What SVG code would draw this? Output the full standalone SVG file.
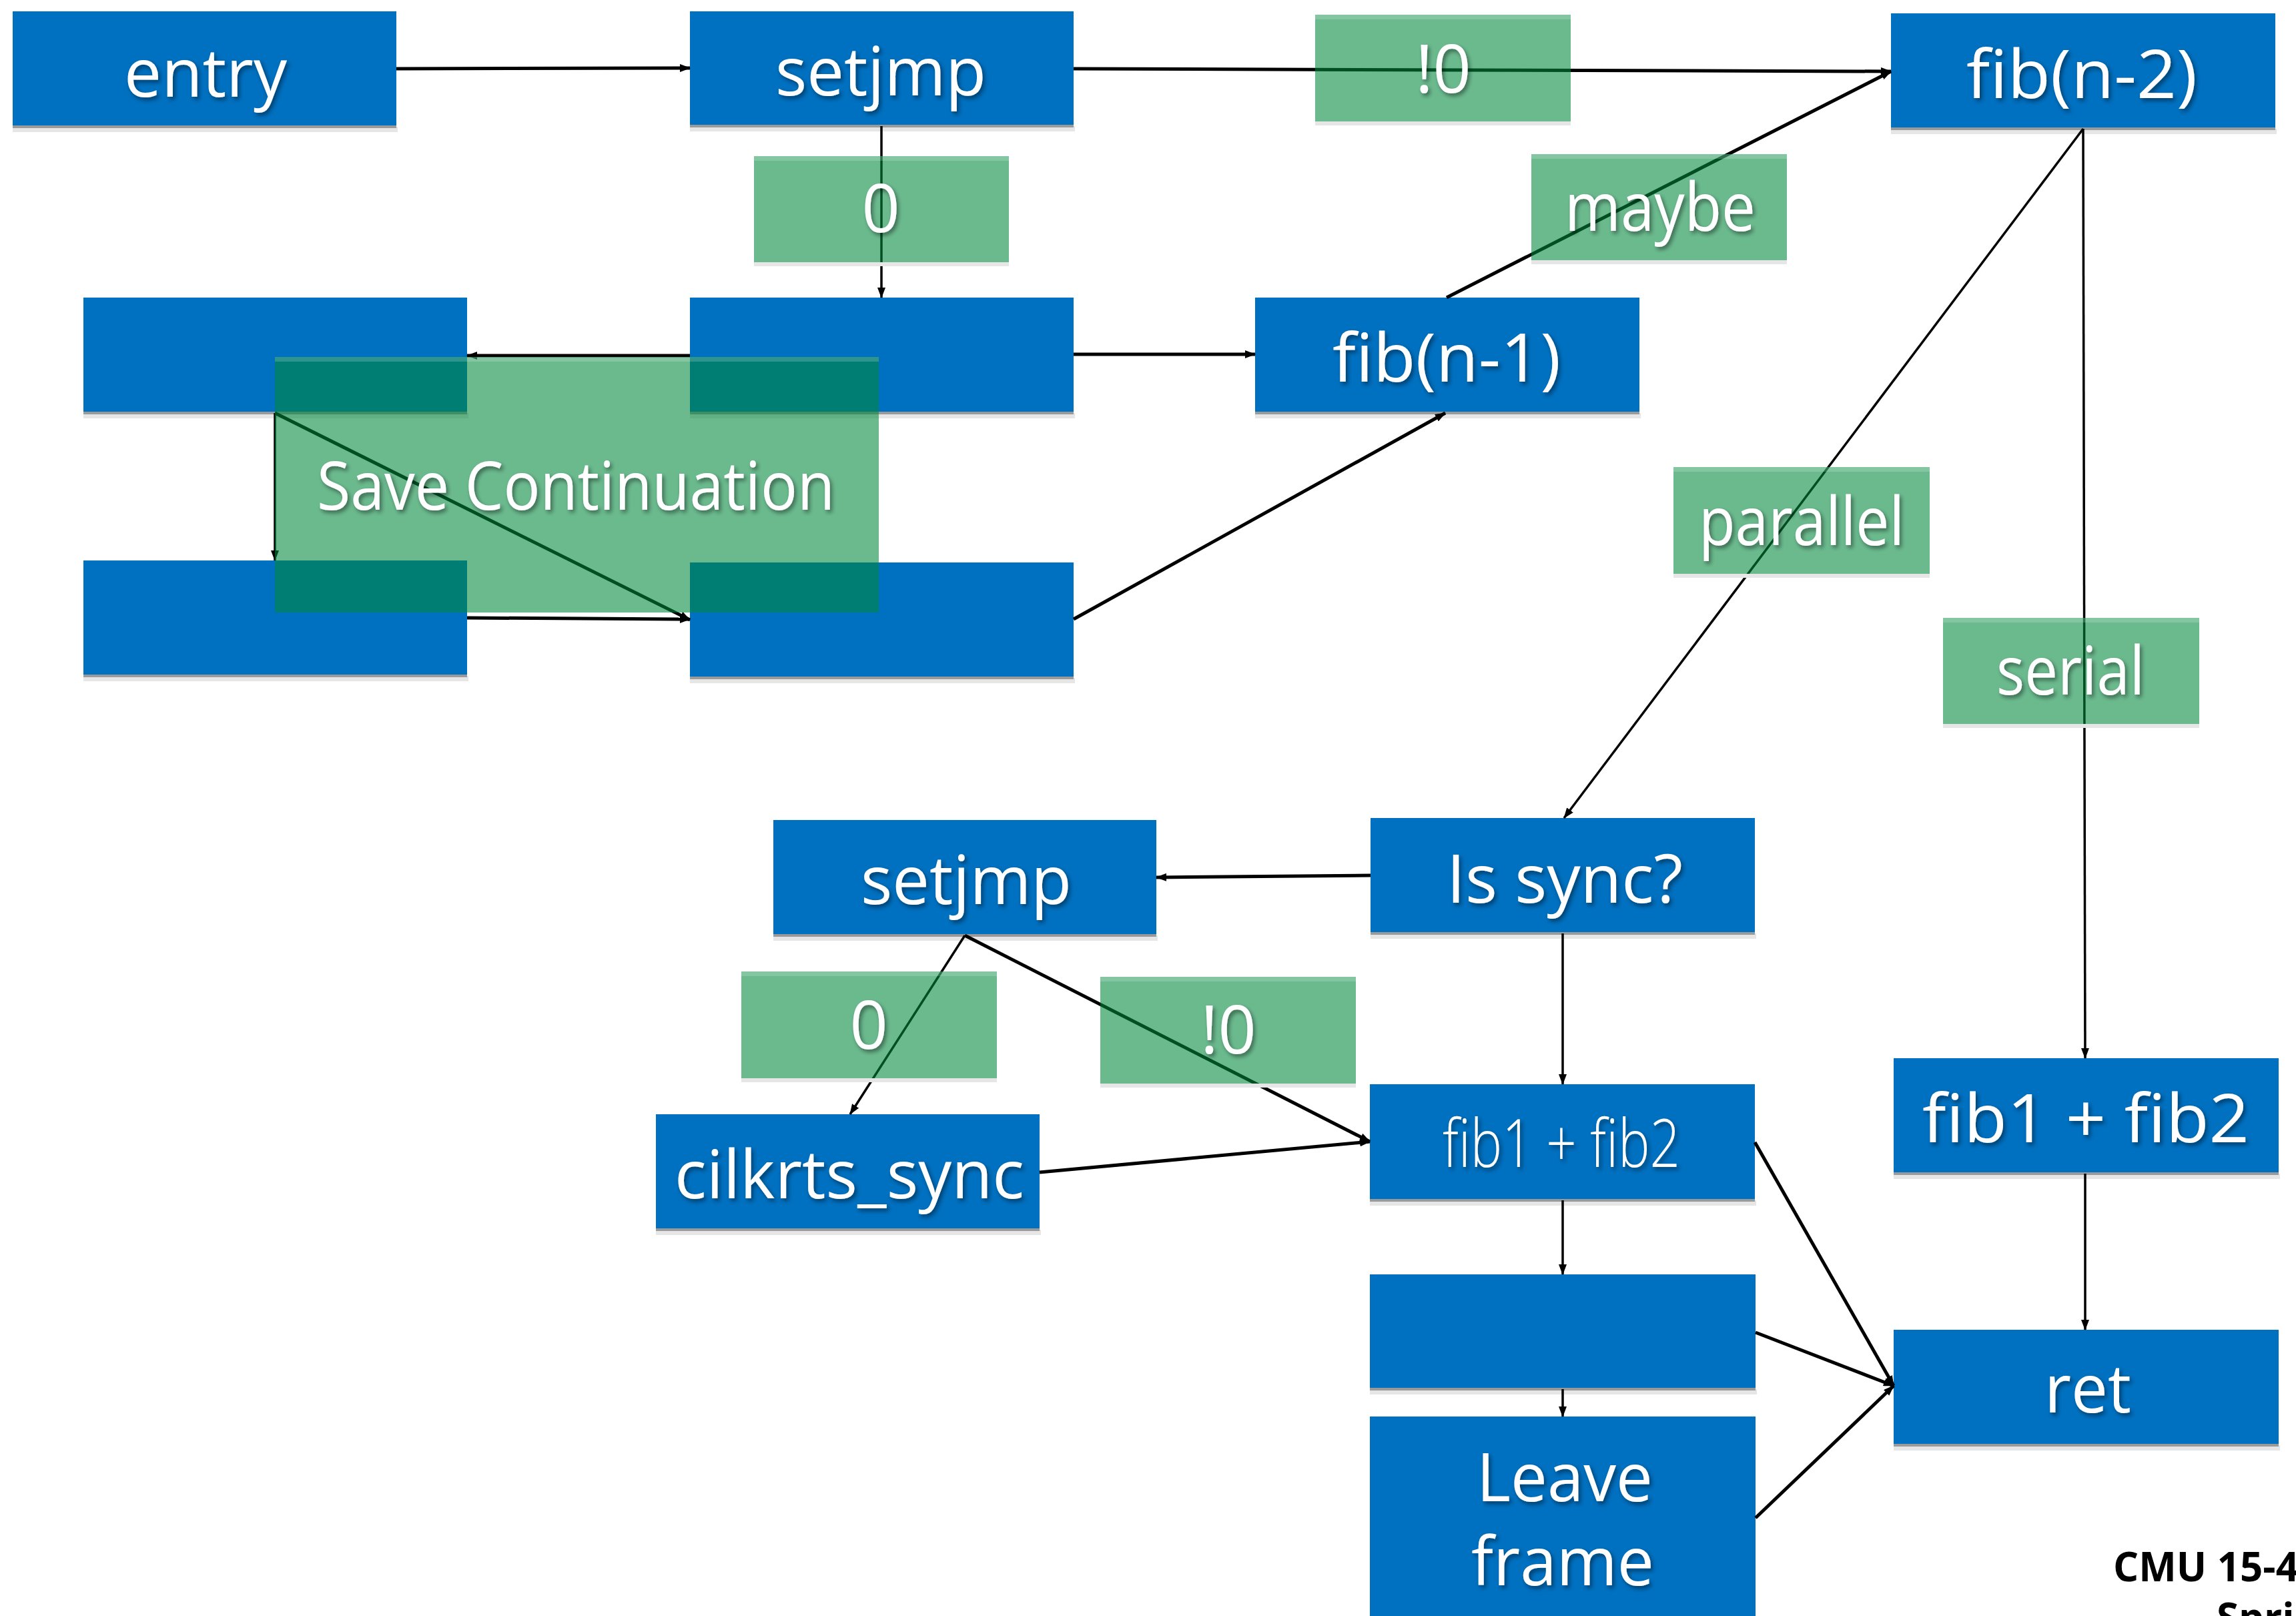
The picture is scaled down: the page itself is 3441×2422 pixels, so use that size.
<svg xmlns="http://www.w3.org/2000/svg" width="3441" height="2422" viewBox="0 0 3441 2422">
<style>
.blk{fill:#0070C0}
.sh{fill:#9a9a9a}
.sh2{fill:#e6e6e6}
.lab{fill:#00883C;fill-opacity:0.58}
.labtop{fill:#ffffff;fill-opacity:0.18}
.t{font-family:"Segoe UI","Open Sans","Noto Sans",sans-serif;font-size:100px;fill:#ffffff;text-anchor:middle;filter:url(#ts)}
.lt{font-weight:300}
.c{fill:none;stroke:#000000;stroke-width:5;marker-end:url(#ah)}
.c3{stroke-width:3.5}
.foot{font-family:"Segoe UI","Open Sans","Noto Sans",sans-serif;font-size:60px;font-weight:700;fill:#000000}
</style>
<defs>
<marker id="ah" markerUnits="userSpaceOnUse" markerWidth="16" markerHeight="12" refX="15" refY="6" orient="auto">
<path d="M0,0 L16,6 L0,12 Z" fill="#000000"/>
</marker>
<filter id="ts" x="-10%" y="-20%" width="130%" height="150%">
<feDropShadow dx="3" dy="4" stdDeviation="3" flood-color="#000000" flood-opacity="0.45"/>
</filter>
</defs>
<rect width="3441" height="2422" fill="#ffffff"/>

<g id="nodes">
<g id="entry"><rect class="sh2" x="19" y="190" width="577" height="8"/><rect class="sh" x="19" y="187" width="575" height="5"/><rect class="blk" x="19" y="17" width="575" height="171"/><text class="t" x="308" y="145" textLength="244" lengthAdjust="spacingAndGlyphs">entry</text></g>
<g id="setjmp1"><rect class="sh2" x="1034" y="189" width="577" height="8"/><rect class="sh" x="1034" y="186" width="575" height="5"/><rect class="blk" x="1034" y="17" width="575" height="170"/><text class="t" x="1320" y="143" textLength="316" lengthAdjust="spacingAndGlyphs">setjmp</text></g>
<g id="fibn2"><rect class="sh2" x="2834" y="193" width="578" height="8"/><rect class="sh" x="2834" y="190" width="576" height="5"/><rect class="blk" x="2834" y="20" width="576" height="171"/><text class="t" x="3120" y="147" textLength="346" lengthAdjust="spacingAndGlyphs">fib(n-2)</text></g>
<g id="b1"><rect class="sh2" x="125" y="619" width="577" height="8"/><rect class="sh" x="125" y="616" width="575" height="5"/><rect class="blk" x="125" y="446" width="575" height="171"/></g>
<g id="b2"><rect class="sh2" x="1034" y="619" width="577" height="8"/><rect class="sh" x="1034" y="616" width="575" height="5"/><rect class="blk" x="1034" y="446" width="575" height="171"/></g>
<g id="fibn1"><rect class="sh2" x="1881" y="619" width="578" height="8"/><rect class="sh" x="1881" y="616" width="576" height="5"/><rect class="blk" x="1881" y="446" width="576" height="171"/><text class="t" x="2168" y="572" textLength="342" lengthAdjust="spacingAndGlyphs">fib(n-1)</text></g>
<g id="b3"><rect class="sh2" x="125" y="1013" width="577" height="8"/><rect class="sh" x="125" y="1010" width="575" height="5"/><rect class="blk" x="125" y="840" width="575" height="171"/></g>
<g id="b4"><rect class="sh2" x="1034" y="1016" width="577" height="8"/><rect class="sh" x="1034" y="1013" width="575" height="5"/><rect class="blk" x="1034" y="843" width="575" height="171"/></g>
<g id="setjmp2"><rect class="sh2" x="1159" y="1402" width="576" height="8"/><rect class="sh" x="1159" y="1399" width="574" height="5"/><rect class="blk" x="1159" y="1229" width="574" height="171"/><text class="t" x="1448" y="1355" textLength="316" lengthAdjust="spacingAndGlyphs">setjmp</text></g>
<g id="issync"><rect class="sh2" x="2054" y="1399" width="578" height="8"/><rect class="sh" x="2054" y="1396" width="576" height="5"/><rect class="blk" x="2054" y="1226" width="576" height="171"/><text class="t" x="2345" y="1353" textLength="354" lengthAdjust="spacingAndGlyphs">Is sync?</text></g>
<g id="cilk"><rect class="sh2" x="983" y="1843" width="577" height="8"/><rect class="sh" x="983" y="1840" width="575" height="5"/><rect class="blk" x="983" y="1670" width="575" height="171"/><text class="t" x="1273" y="1796" textLength="524" lengthAdjust="spacingAndGlyphs">cilkrts_sync</text></g>
<g id="fibsumL"><rect class="sh2" x="2053" y="1799" width="579" height="8"/><rect class="sh" x="2053" y="1796" width="577" height="5"/><rect class="blk" x="2053" y="1625" width="577" height="172"/><text class="t lt" x="2340" y="1749" textLength="356" lengthAdjust="spacingAndGlyphs">fib1 + fib2</text></g>
<g id="fibsumR"><rect class="sh2" x="2838" y="1759" width="579" height="8"/><rect class="sh" x="2838" y="1756" width="577" height="5"/><rect class="blk" x="2838" y="1586" width="577" height="171"/><text class="t" x="3126" y="1712" textLength="490" lengthAdjust="spacingAndGlyphs">fib1 + fib2</text></g>
<g id="b5"><rect class="sh2" x="2053" y="2082" width="580" height="8"/><rect class="sh" x="2053" y="2079" width="578" height="5"/><rect class="blk" x="2053" y="1910" width="578" height="170"/></g>
<g id="leave"><rect class="blk" x="2053" y="2123" width="578" height="300"/><text class="t" x="2345" y="2250" textLength="264" lengthAdjust="spacingAndGlyphs">Leave</text><text class="t" x="2342" y="2376" textLength="274" lengthAdjust="spacingAndGlyphs">frame</text></g>
<g id="ret"><rect class="sh2" x="2838" y="2166" width="579" height="8"/><rect class="sh" x="2838" y="2163" width="577" height="5"/><rect class="blk" x="2838" y="1993" width="577" height="171"/><text class="t" x="3129" y="2117" textLength="130" lengthAdjust="spacingAndGlyphs">ret</text></g>
</g>

<g id="connectors">
<line class="c" x1="594" y1="103" x2="1034" y2="102"/>
<line class="c" x1="1609" y1="103" x2="2834" y2="107"/>
<line class="c c3" x1="1321" y1="189" x2="1321" y2="446"/>
<line class="c" x1="1034" y1="533" x2="700" y2="533"/>
<line class="c" x1="1609" y1="531" x2="1881" y2="531"/>
<line class="c" x1="2168" y1="446" x2="2834" y2="107"/>
<line class="c c3" x1="412" y1="619" x2="412" y2="840"/>
<line class="c" x1="412" y1="619" x2="1034" y2="929"/>
<line class="c" x1="700" y1="926" x2="1034" y2="928"/>
<line class="c" x1="1609" y1="928" x2="2166" y2="619"/>
<line class="c c3" x1="3122" y1="193" x2="2344" y2="1226"/>
<line class="c c3" x1="3122" y1="193" x2="3125" y2="1586"/>
<line class="c" x1="2054" y1="1312" x2="1733" y2="1315"/>
<line class="c c3" x1="2342" y1="1399" x2="2342" y2="1625"/>
<line class="c c3" x1="1446" y1="1402" x2="1274" y2="1670"/>
<line class="c" x1="1446" y1="1402" x2="2053" y2="1711"/>
<line class="c" x1="1558" y1="1757" x2="2053" y2="1711"/>
<line class="c c3" x1="2342" y1="1799" x2="2342" y2="1910"/>
<line class="c c3" x1="2342" y1="2082" x2="2342" y2="2123"/>
<line class="c" x1="2630" y1="1712" x2="2838" y2="2077"/>
<line class="c" x1="2631" y1="1997" x2="2838" y2="2077"/>
<line class="c" x1="2631" y1="2275" x2="2838" y2="2077"/>
<line class="c c3" x1="3125" y1="1759" x2="3125" y2="1993"/>
</g>

<g id="labels">
<g id="lab0a"><rect class="sh2" x="1130" y="393" width="382" height="6"/><rect class="lab" x="1130" y="234" width="382" height="159"/><rect class="labtop" x="1130" y="234" width="382" height="7"/><text class="t" x="1320" y="348">0</text></g>
<g id="labn0a"><rect class="sh2" x="1971" y="182" width="383" height="6"/><rect class="lab" x="1971" y="22" width="383" height="160"/><rect class="labtop" x="1971" y="22" width="383" height="7"/><text class="t" x="2163" y="139">!0</text></g>
<g id="labmaybe"><rect class="sh2" x="2295" y="390" width="383" height="6"/><rect class="lab" x="2295" y="231" width="383" height="159"/><rect class="labtop" x="2295" y="231" width="383" height="7"/><text class="t" x="2488" y="346" textLength="286" lengthAdjust="spacingAndGlyphs">maybe</text></g>
<g id="labsave"><rect class="lab" x="412" y="535" width="905" height="383"/><rect class="labtop" x="412" y="535" width="905" height="7"/><text class="t" x="863" y="764" textLength="776" lengthAdjust="spacingAndGlyphs">Save Continuation</text></g>
<g id="labpar"><rect class="sh2" x="2508" y="860" width="384" height="6"/><rect class="lab" x="2508" y="700" width="384" height="160"/><rect class="labtop" x="2508" y="700" width="384" height="7"/><text class="t" x="2700" y="817" textLength="308" lengthAdjust="spacingAndGlyphs">parallel</text></g>
<g id="labser"><rect class="sh2" x="2912" y="1085" width="384" height="6"/><rect class="lab" x="2912" y="926" width="384" height="159"/><rect class="labtop" x="2912" y="926" width="384" height="7"/><text class="t" x="3103" y="1041" textLength="222" lengthAdjust="spacingAndGlyphs">serial</text></g>
<g id="lab0b"><rect class="sh2" x="1111" y="1616" width="383" height="6"/><rect class="lab" x="1111" y="1456" width="383" height="160"/><rect class="labtop" x="1111" y="1456" width="383" height="7"/><text class="t" x="1302" y="1572">0</text></g>
<g id="labn0b"><rect class="sh2" x="1649" y="1624" width="383" height="6"/><rect class="lab" x="1649" y="1464" width="383" height="160"/><rect class="labtop" x="1649" y="1464" width="383" height="7"/><text class="t" x="1841" y="1579">!0</text></g>
</g>

<g id="footer">
<text class="foot" x="3167" y="2370">CMU 15-4</text>
<text class="foot" x="3322" y="2446">Spri</text>
</g>
</svg>
